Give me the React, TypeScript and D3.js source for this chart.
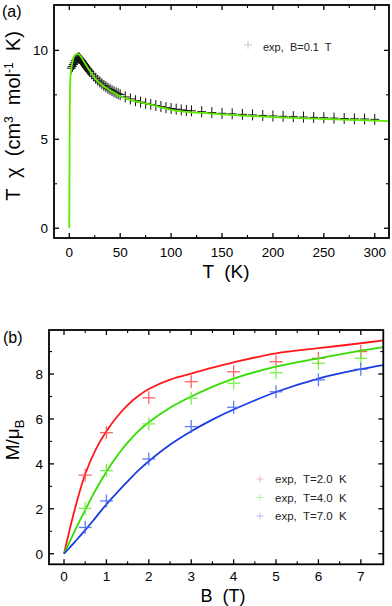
import React from 'react';
import * as d3 from 'd3';

const W = 392;
const H = 606;

// panel (a): T chi vs T, B = 0.1 T
const chiT = [2, 3, 4, 5, 6, 7, 8, 9, 10, 11, 12, 13, 14, 15, 16, 17, 18, 19, 20,
  22, 24, 26, 28, 30, 32, 34, 36, 38, 40, 42, 44, 46, 48, 50,
  55, 60, 65, 70, 75, 80, 85, 90, 95, 100, 105, 110, 115,
  120, 130, 140, 150, 160, 170, 180, 190, 200, 210, 220, 230, 240, 250, 260, 270, 280, 290, 300];
const chiVal = [9.0, 9.1, 9.2, 9.3, 9.42, 9.5, 9.55, 9.58, 9.56, 9.5, 9.43, 9.35, 9.27, 9.19, 9.11, 9.03, 8.96, 8.89, 8.82,
  8.68, 8.55, 8.43, 8.32, 8.22, 8.12, 8.03, 7.95, 7.87, 7.8, 7.73, 7.67, 7.61, 7.56, 7.51,
  7.38, 7.27, 7.17, 7.09, 7.02, 6.96, 6.9, 6.84, 6.78, 6.73, 6.69, 6.65, 6.62,
  6.6, 6.55, 6.5, 6.46, 6.43, 6.4, 6.37, 6.34, 6.31, 6.29, 6.27, 6.25, 6.23, 6.21, 6.19, 6.17, 6.15, 6.14, 6.12];
const fitT = [0, 0.3, 0.6, 1, 1.5, 2, 3, 4, 6, 8, 10, 12, 15, 20, 25, 30, 40, 50, 60, 70, 80, 90, 100, 110, 130, 150, 175, 200, 225, 250, 275, 300, 314];
const fitChi = [0, 4.5, 7.2, 8.3, 8.7, 8.95, 9.3, 9.55, 9.75, 9.8, 9.75, 9.6, 9.3, 8.85, 8.45, 8.15, 7.75, 7.42, 7.22, 7.07, 6.95, 6.8, 6.66, 6.57, 6.48, 6.4, 6.32, 6.25, 6.19, 6.14, 6.09, 6.05, 6.02];

const aXTicks = [0, 50, 100, 150, 200, 250, 300];
const aXMinor = [25, 75, 125, 175, 225, 275];
const aYTicks = [0, 5, 10];
const aYMinor = [2.5, 7.5];

// panel (b): magnetisation
const fieldB = [0.5, 1, 2, 3, 4, 5, 6, 7];
const m2K = [3.5, 5.39, 6.94, 7.66, 8.1, 8.55, 8.7, 9.0];
const m4K = [2.02, 3.7, 5.78, 6.92, 7.59, 8.06, 8.48, 8.7];
const m7K = [1.17, 2.35, 4.22, 5.66, 6.52, 7.21, 7.74, 8.21];
const fitB = [0, 0.25, 0.5, 0.75, 1, 1.25, 1.5, 1.75, 2, 2.5, 3, 3.5, 4, 5, 6, 7, 7.53];
const fit2K = [0, 1.95, 3.55, 4.65, 5.45, 6.1, 6.62, 7.02, 7.33, 7.75, 8.02, 8.28, 8.52, 8.92, 9.15, 9.37, 9.5];
const fit4K = [0, 1.0, 1.95, 2.85, 3.65, 4.35, 4.95, 5.45, 5.85, 6.5, 7.0, 7.43, 7.8, 8.33, 8.7, 9.04, 9.2];
const fit7K = [0, 0.52, 1.05, 1.62, 2.2, 2.72, 3.22, 3.7, 4.12, 4.85, 5.45, 5.97, 6.42, 7.2, 7.8, 8.22, 8.4];

const bXTicks = [0, 1, 2, 3, 4, 5, 6, 7];
const bXMinor = [0.5, 1.5, 2.5, 3.5, 4.5, 5.5, 6.5];
const bYTicks = [0, 2, 4, 6, 8];
const bYMinor = [1, 3, 5, 7, 9];

const seriesB = [
  {label: 'exp,  T=2.0  K', pts: m2K, fit: fit2K, line: '#ff1a1a', mark: '#ff4a4a', pale: '#ffb0c0'},
  {label: 'exp,  T=4.0  K', pts: m4K, fit: fit4K, line: '#33dd00', mark: '#66ee33', pale: '#b8f5a8'},
  {label: 'exp,  T=7.0  K', pts: m7K, fit: fit7K, line: '#1a3de6', mark: '#4466ee', pale: '#b8c0f5'},
];

const FONT = '"Liberation Sans", Arial, sans-serif';

function Frame({x, y, xt, xm, yt, ym, lblDy = 19}) {
  const [x0, x1] = x.range();
  const [y0, y1] = y.range();
  const MJ = 5, MN = 3;
  return (
    <g stroke="#000" fill="none">
      {xt.map(t => (
        <g key={'xt' + t}>
          <line x1={x(t)} x2={x(t)} y1={y0} y2={y0 - MJ} strokeWidth={1.3} />
          <line x1={x(t)} x2={x(t)} y1={y1} y2={y1 + MJ} strokeWidth={1.3} />
        </g>
      ))}
      {xm.map(t => (
        <g key={'xm' + t}>
          <line x1={x(t)} x2={x(t)} y1={y0} y2={y0 - MN} strokeWidth={1.1} />
          <line x1={x(t)} x2={x(t)} y1={y1} y2={y1 + MN} strokeWidth={1.1} />
        </g>
      ))}
      {yt.map(t => (
        <g key={'yt' + t}>
          <line x1={x0} x2={x0 + MJ} y1={y(t)} y2={y(t)} strokeWidth={1.3} />
          <line x1={x1} x2={x1 - MJ} y1={y(t)} y2={y(t)} strokeWidth={1.3} />
        </g>
      ))}
      {ym.map(t => (
        <g key={'ym' + t}>
          <line x1={x0} x2={x0 + MN} y1={y(t)} y2={y(t)} strokeWidth={1.1} />
          <line x1={x1} x2={x1 - MN} y1={y(t)} y2={y(t)} strokeWidth={1.1} />
        </g>
      ))}
      <rect x={x0} y={y1} width={x1 - x0} height={y0 - y1} strokeWidth={1.8} />
      <g fill="#000" stroke="none" fontFamily={FONT} fontSize={13.5}>
        {xt.map(t => (
          <text key={'xl' + t} x={x(t)} y={y0 + lblDy} textAnchor="middle">{t}</text>
        ))}
        {yt.map(t => (
          <text key={'yl' + t} x={x0 - 6} y={y(t) + 5} textAnchor="end">{t}</text>
        ))}
      </g>
    </g>
  );
}

function Cross({cx, cy, w, h, color, sw = 1, op = 1}) {
  return (
    <g stroke={color} strokeWidth={sw} opacity={op}>
      <line x1={cx - w / 2} x2={cx + w / 2} y1={cy} y2={cy} />
      <line x1={cx} x2={cx} y1={cy - h / 2} y2={cy + h / 2} />
    </g>
  );
}

export default function App() {
  // panel (a)
  const ax = d3.scaleLinear().domain([-15, 314]).range([54, 389]);
  const ay = d3.scaleLinear().domain([-0.55, 12.55]).range([238, 5]);
  const aLine = d3.line<number>().x((d, i) => ax(fitT[i])).y(d => ay(d)).curve(d3.curveMonotoneX);

  // panel (b)
  const bx = d3.scaleLinear().domain([-0.354, 7.53]).range([49, 383.3]);
  const by = d3.scaleLinear().domain([-0.47, 9.96]).range([564.3, 330]);
  const bLine = (vals: number[]) =>
    d3.line<number>().x((d, i) => bx(fitB[i])).y(d => by(d)).curve(d3.curveCatmullRom.alpha(0.5))(vals);

  return (
    <svg width={W} height={H} style={{position: 'absolute', left: 0, top: 0, background: '#fff'}}
      fontFamily={FONT}>
      {/* (a) */}
      <g>
        {chiT.map((t, i) => (
          <Cross key={'c' + i} cx={ax(t)} cy={ay(chiVal[i])} w={9} h={11} color="#111" sw={1} />
        ))}
        <path d={aLine(fitChi) || ''} fill="none" stroke="#5fe800" strokeWidth={1.8} />
        <Frame x={ax} y={ay} xt={aXTicks} xm={aXMinor} yt={aYTicks} ym={aYMinor} />
        <Cross cx={248} cy={45} w={8} h={8} color="#c8c8c8" />
        <text x={263} y={51} fontSize={11} fill="#222" style={{whiteSpace: 'pre'}}>exp,  B=0.1  T</text>
        <text x={2} y={17} fontSize={16}>(a)</text>
        <text x={226} y={278} fontSize={19} textAnchor="middle" style={{whiteSpace: 'pre'}}>T  (K)</text>
        <text transform="translate(20,116) rotate(-90)" fontSize={20} textAnchor="middle" style={{whiteSpace: 'pre'}}>
          T  χ  (cm<tspan dy={-7} fontSize={12}>3</tspan><tspan dy={7}>  mol</tspan>
          <tspan dy={-7} fontSize={12}>-1</tspan><tspan dy={7}>  K)</tspan>
        </text>
      </g>

      {/* (b) */}
      <g>
        {seriesB.map(s => (
          <g key={s.label}>
            <path d={bLine(s.fit) || ''} fill="none" stroke={s.line} strokeWidth={1.8} />
            {fieldB.map((b, i) => (
              <Cross key={i} cx={bx(b)} cy={by(s.pts[i])} w={13} h={13} color={s.mark} sw={1.3} op={0.85} />
            ))}
          </g>
        ))}
        <Frame x={bx} y={by} xt={bXTicks} xm={bXMinor} yt={bYTicks} ym={bYMinor} lblDy={17} />
        {seriesB.map((s, i) => (
          <g key={'lg' + i}>
            <Cross cx={260} cy={479 + i * 18.5} w={7} h={7} color={s.pale} />
            <text x={275} y={483 + i * 18.5} fontSize={11.5} fill="#222" style={{whiteSpace: 'pre'}}>{s.label}</text>
          </g>
        ))}
        <text x={3} y={343} fontSize={16}>(b)</text>
        <text x={223} y={602} fontSize={18} textAnchor="middle" style={{whiteSpace: 'pre'}}>B  (T)</text>
        <text transform="translate(19,440) rotate(-90)" fontSize={19} textAnchor="middle">
          M/μ<tspan dy={5} fontSize={13}>B</tspan>
        </text>
      </g>
    </svg>
  );
}
